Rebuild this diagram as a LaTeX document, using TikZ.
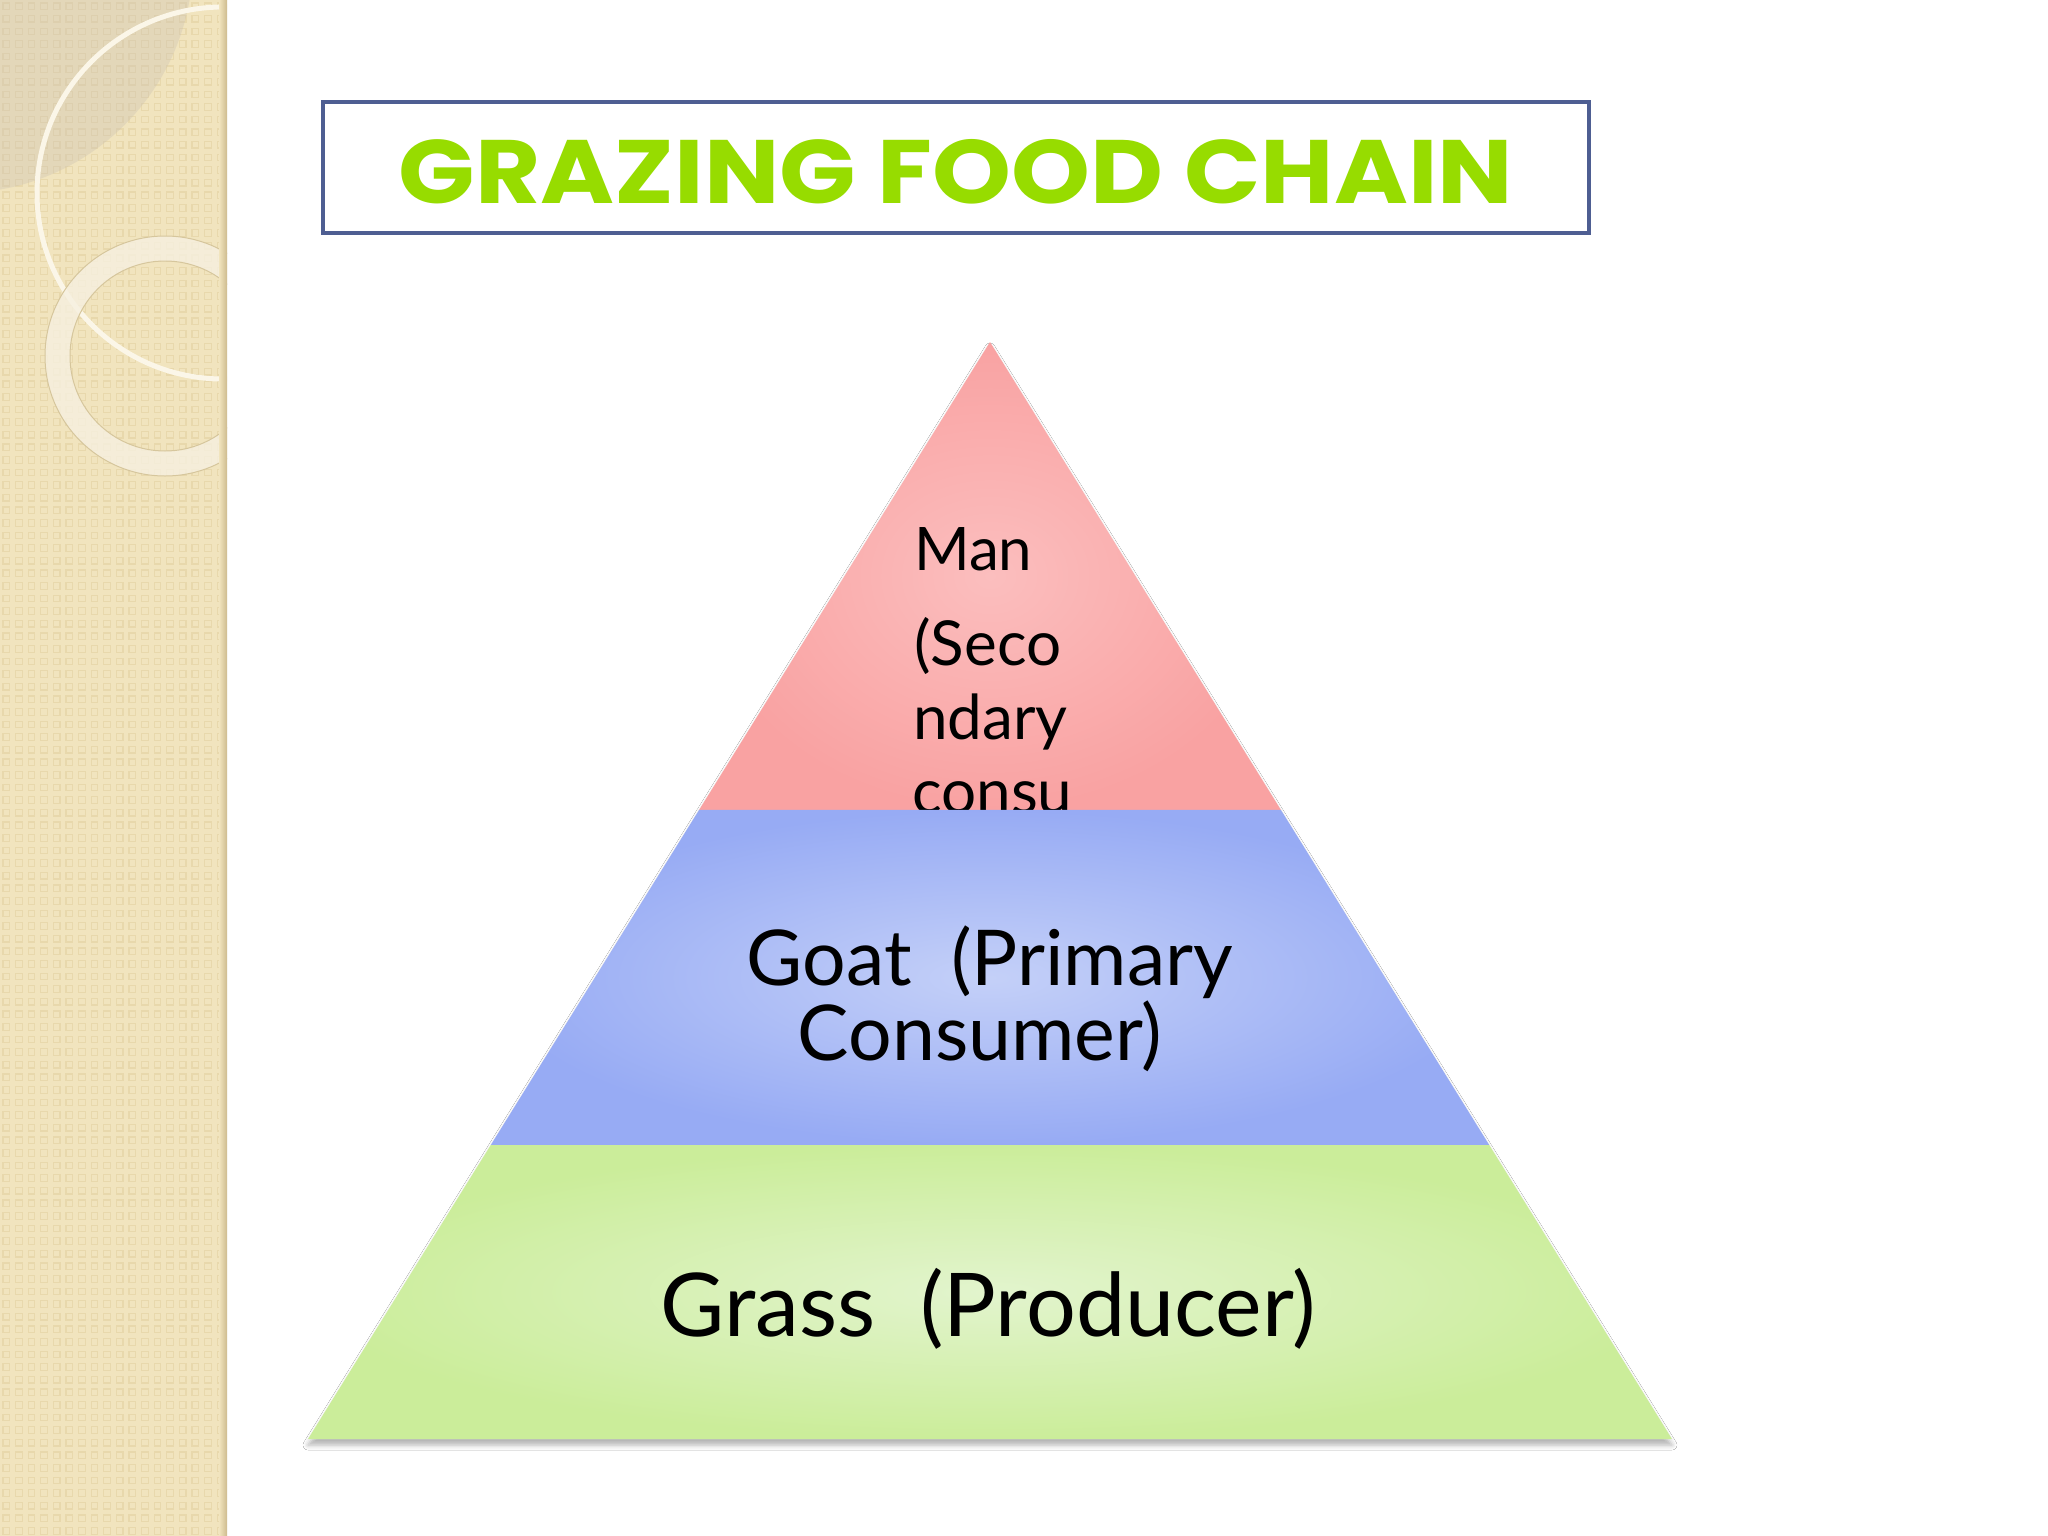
\documentclass[tikz,border=0pt]{standalone}
\usepackage{fontspec}
\setmainfont{Lato}
\newfontfamily\titlefont{Poppins}
\usetikzlibrary{calc,shadows.blur}

\definecolor{strip}{HTML}{F1E4BE}
\definecolor{tileline}{HTML}{E8D8AC}
\definecolor{greydisk}{HTML}{C9C1B2}
\definecolor{arcline}{HTML}{FBF6E8}
\definecolor{ringfill}{HTML}{F6F0E0}
\definecolor{ringedge}{HTML}{D6C69C}
\definecolor{stripedge}{HTML}{CDBB8E}
\definecolor{titlegreen}{HTML}{97DC00}
\definecolor{boxblue}{HTML}{4E5E92}
\definecolor{redin}{HTML}{FBBEBE}
\definecolor{redout}{HTML}{F9A2A2}
\definecolor{bluein}{HTML}{C4D0F8}
\definecolor{blueout}{HTML}{97ABF4}
\definecolor{greenin}{HTML}{E2F4CD}
\definecolor{greenout}{HTML}{CBED9A}

\begin{document}
\begin{tikzpicture}[x=1pt,y=-1pt,
 tilebox/.style={draw=tileline,line width=1.2pt},
 lvtext/.style={inner sep=0pt,anchor=base west},
 midtext/.style={inner sep=0pt,anchor=base},
]
 \useasboundingbox (0,0) rectangle (2048,1536); %全体
 \fill[white] (0,0) rectangle (2048,1536); %背景
 \begin{scope}
  \clip (0,0) rectangle (227,1536); %左の帯
  \fill[strip] (0,0) rectangle (227,1536);
  \foreach \i in {0,...,17}
   \foreach \j in {0,...,121}
    \draw[tilebox] ({\i*12.6+3},{\j*12.6+3}) rectangle ++(6.5,6.5); %模様
  \fill[greydisk,opacity=0.35] (-40,-40) circle (233); %灰色の円
  \draw[arcline,line width=5pt] (223,193) circle (186); %細い輪
  \fill[ringfill,opacity=0.8,even odd rule] (165,356) circle (120) (165,356) circle (95); %太い輪
  \draw[ringedge,line width=1pt] (165,356) circle (120) (165,356) circle (95);
  \shade[left color=strip,right color=stripedge] (219,0) rectangle (227,1536); %帯の影
 \end{scope}

 \draw[boxblue,line width=4pt] (323,102) rectangle (1589,233); %タイトル枠
 \node[midtext,text=titlegreen] (title) at (956,203)
  {\titlefont\bfseries\fontsize{90}{100}\selectfont\scalebox{1.115}[1]{GRAZING FOOD CHAIN}}; %タイトル

 \coordinate (A) at (990,342); %頂点
 \coordinate (BL) at (308,1439); %左下
 \coordinate (BR) at (1672,1439); %右下
 \coordinate (L1) at ($(A)!0.4266!(BL)$); %赤と青の境
 \coordinate (R1) at ($(A)!0.4266!(BR)$);
 \coordinate (L2) at ($(A)!0.7320!(BL)$); %青と緑の境
 \coordinate (R2) at ($(A)!0.7320!(BR)$);
 \fill[white,blur shadow={shadow xshift=0pt,shadow yshift=-6pt,shadow blur radius=5pt,shadow opacity=30}] (A)--(BL)--(BR)--cycle; %影

 \shade[inner color=redin,outer color=redout] (A)--(L1)--(R1)--cycle; %上段
 \node[lvtext] (man) at (914,570) {\fontsize{60}{72}\selectfont Man};
 \node[lvtext] (sec1) at (914,665) {\fontsize{62}{72}\selectfont (Seco};
 \node[lvtext] (sec2) at (913,739) {\fontsize{62}{72}\selectfont ndary};
 \node[lvtext] (sec3) at (912,813) {\fontsize{62}{72}\selectfont consu};

 \shade[inner color=bluein,outer color=blueout] (L1)--(L2)--(R2)--(R1)--cycle; %中段
 \node[midtext] (goat1) at (990,985) {\fontsize{77}{85}\selectfont Goat\ \ (Primary};
 \node[midtext] (goat2) at (980,1060) {\fontsize{77}{85}\selectfont Consumer)};

 \shade[inner color=greenin,outer color=greenout] (L2)--(BL)--(BR)--(R2)--cycle; %下段
 \node[midtext] (grass) at (988,1336) {\fontsize{88}{98}\selectfont Grass\ \ (Producer)};
\end{tikzpicture}
\end{document}
